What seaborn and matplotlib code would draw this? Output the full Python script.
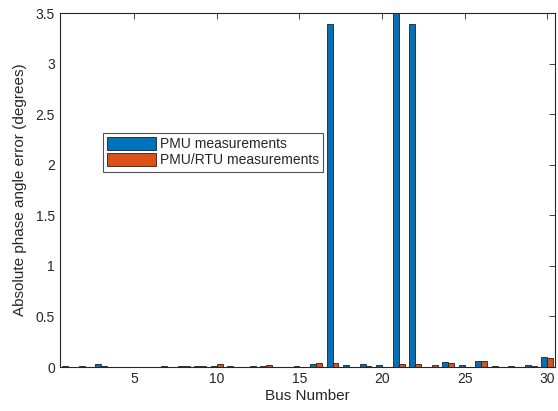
import matplotlib
matplotlib.use("Agg")
import matplotlib.pyplot as plt
import seaborn as sns
import pandas as pd
import numpy as np

buses = list(range(1, 31))
pmu = [0.01, 0.01, 0.03, 0.005, 0.005, 0.005, 0.015, 0.01, 0.01, 0.01,
       0.01, 0.005, 0.01, 0.005, 0.01, 0.03, 3.39, 0.02, 0.025, 0.02,
       3.5, 3.39, 0.005, 0.045, 0.02, 0.06, 0.01, 0.01, 0.02, 0.10]
pmu_rtu = [0.005, 0.005, 0.015, 0.005, 0.005, 0.005, 0.005, 0.01, 0.015, 0.025,
           0.005, 0.01, 0.02, 0.005, 0.005, 0.04, 0.04, 0.005, 0.01, 0.005,
           0.03, 0.03, 0.02, 0.035, 0.005, 0.055, 0.005, 0.005, 0.01, 0.09]
series_names = ["PMU measurements", "PMU/RTU measurements"]
xtick_labels = ["5", "10", "15", "20", "25", "30"]
ytick_labels = ["0", "0.5", "1", "1.5", "2", "2.5", "3", "3.5"]

df = pd.DataFrame({
    "bus": buses * 2,
    "value": pmu + pmu_rtu,
    "series": [series_names[0]] * len(buses) + [series_names[1]] * len(buses),
})

sns.set_style("white")
plt.rcParams['font.family'] = ['Liberation Sans', 'DejaVu Sans']

fig = plt.figure(figsize=(5.58, 4.11), dpi=100)
ax = fig.add_axes([0.1075, 0.107, 0.888, 0.861])

sns.barplot(data=df, x="bus", y="value", hue="series",
            palette=["#0072BD", "#D95319"], saturation=1, width=0.72,
            edgecolor="#202020", linewidth=0.6, ax=ax, legend=True)

ax.set_xlim(-0.5, 29.5)
ax.set_ylim(0, 3.5)
ax.set_xticks([int(t) - 1 for t in xtick_labels])
ax.set_xticklabels(xtick_labels)
ax.set_yticks([float(t) for t in ytick_labels])
ax.set_yticklabels(ytick_labels)
ax.tick_params(direction="in", length=4, width=0.6, colors="#262626",
               labelsize=10, top=True, right=True, labeltop=False, labelright=False)
for s in ax.spines.values():
    s.set_visible(True)
    s.set_color("#262626")
    s.set_linewidth(0.8)
ax.set_xlabel("Bus Number", fontsize=11, color="#262626", labelpad=2)
ax.set_ylabel("Absolute phase angle error (degrees)", fontsize=11, color="#262626", labelpad=6)

leg = ax.legend(loc="upper left", bbox_to_anchor=(0.087, 0.661), borderaxespad=0,
                fontsize=10, frameon=True, fancybox=False, edgecolor="#262626",
                handlelength=3.5, handleheight=1.0, handletextpad=0.3,
                labelspacing=0.15, borderpad=0.3, title=None)
leg.get_frame().set_linewidth(0.8)

fig.savefig("out.png", dpi=100)
